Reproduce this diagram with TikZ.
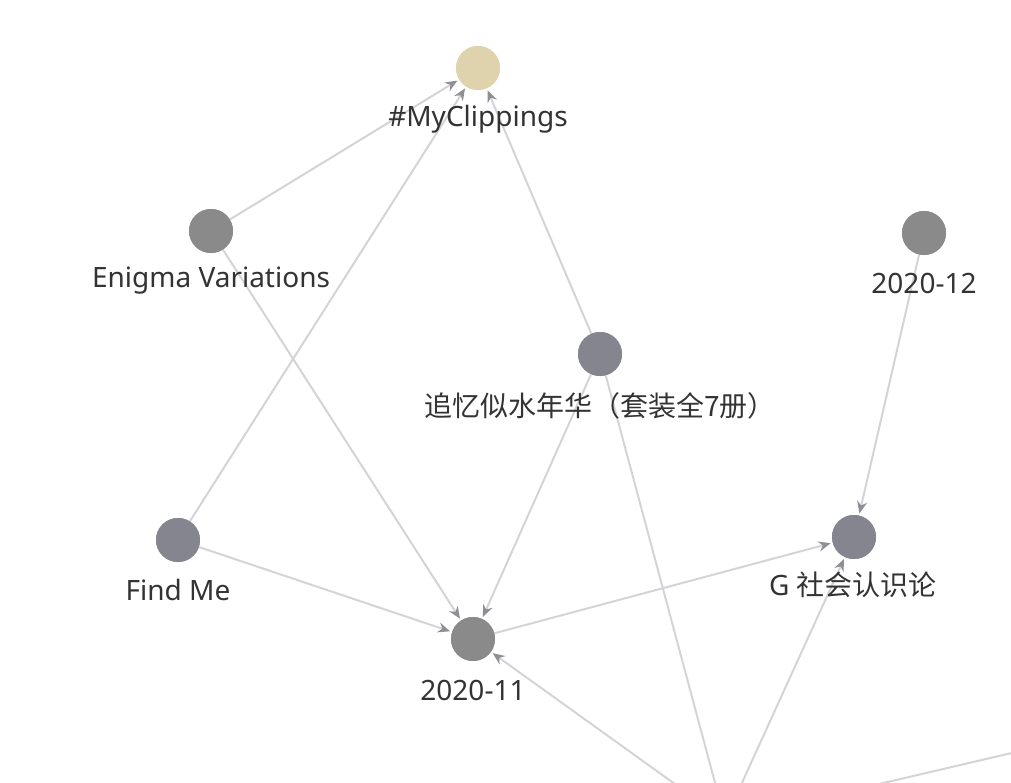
\documentclass[tikz,border=0pt]{standalone}
\usepackage{fontspec}
\setmainfont{Noto Sans}
\newfontfamily\cjk{Noto Sans CJK SC}
\usetikzlibrary{arrows.meta}
\definecolor{edgegray}{HTML}{D4D4D8}
\definecolor{tipgray}{HTML}{8E8E94}
\definecolor{dotgray}{HTML}{8A8A8A}
\definecolor{dotblue}{HTML}{85858F}
\definecolor{dottag}{HTML}{DFD3AD}
\definecolor{labeltext}{HTML}{333333}
\tikzset{
  dot/.style={circle, inner sep=0pt, minimum size=44pt, draw=none},
  lbl/.style={text=labeltext, font=\fontsize{28}{32}\selectfont, inner sep=0pt, anchor=center},
  link/.style={draw=edgegray, line width=2pt, -{Stealth[length=12pt,width=10pt,color=tipgray]}, shorten >=2pt},
}
\begin{document}
\begin{tikzpicture}[x=1pt,y=-1pt]
\useasboundingbox (0,0) rectangle (1011,782);
\clip (0,0) rectangle (1011,782);
% graph nodes
\node[dot, fill=dottag]  (clip)   at (478,68)  {};
\node[dot, fill=dotgray] (enigma) at (211,231) {};
\node[dot, fill=dotgray] (dec)    at (924,233) {};
\node[dot, fill=dotblue] (proust) at (600,354) {};
\node[dot, fill=dotblue] (findme) at (178,540) {};
\node[dot, fill=dotblue] (social) at (854,537) {};
\node[dot, fill=dotgray] (nov)    at (473,639) {};
\node[dot, fill=dotgray] (lower)  at (725,820) {};
\node[dot, fill=dotgray] (farright) at (1110,730) {};
% connectors
\draw[link] (enigma) -- (clip);
\draw[link] (findme) -- (clip);
\draw[link] (proust) -- (clip);
\draw[link] (enigma) -- (nov);
\draw[link] (proust) -- (nov);
\draw[link] (findme) -- (nov);
\draw[link] (nov) -- (social);
\draw[link] (dec) -- (social);
\draw[link] (proust) -- (lower);
\draw[link] (lower) -- (social);
\draw[link] (lower) -- (nov);
\draw[link] (farright) -- (lower);
% dots again, above the connectors
\node[dot, fill=dottag]  at (clip)   {};
\node[dot, fill=dotgray] at (enigma) {};
\node[dot, fill=dotgray] at (dec)    {};
\node[dot, fill=dotblue] at (proust) {};
\node[dot, fill=dotblue] at (findme) {};
\node[dot, fill=dotblue] at (social) {};
\node[dot, fill=dotgray] at (nov)    {};
% labels
\node[lbl] (lclip)   at (478,119) {\#MyClippings};
\node[lbl] (lenigma) at (211,281) {Enigma Variations};
\node[lbl] (ldec)    at (924,283) {2020-12};
\node[lbl] (lproust) at (600,406) {\cjk 追忆似水年华（套装全7册）};
\node[lbl] (lfindme) at (178,590) {Find Me};
\node[lbl] (lsocial) at (853,585) {G {\cjk 社会认识论}};
\node[lbl] (lnov)    at (473,690) {2020-11};
\end{tikzpicture}
\end{document}
